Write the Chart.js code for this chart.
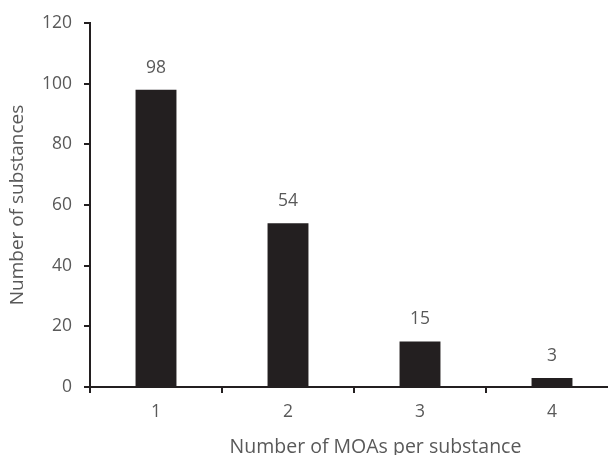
<!DOCTYPE html>
<html>
<head>
<meta charset="utf-8">
<script src="https://cdn.jsdelivr.net/npm/chart.js@4/dist/chart.umd.min.js"></script>
<style>
  html, body { margin: 0; padding: 0; background: #ffffff; overflow: hidden; }
  #wrap { position: relative; width: 620px; height: 455px; }
</style>
</head>
<body>
<div id="wrap"><canvas id="c"></canvas></div>
<script>
const categories = ['1', '2', '3', '4'];
const substanceCounts = [98, 54, 15, 3];
const yTickValues = [0, 20, 40, 60, 80, 100, 120];
const xTitle = 'Number of MOAs per substance';
const yTitle = 'Number of substances';

const TEXT = '#595959';
const DARK = '#231f20';
const FONT = "'Open Sans', 'Noto Sans', sans-serif";

const valueLabels = {
  id: 'valueLabels',
  afterDatasetsDraw(chart) {
    const ctx = chart.ctx;
    const meta = chart.getDatasetMeta(0);
    ctx.save();
    ctx.fillStyle = TEXT;
    ctx.font = '17.5px ' + FONT;
    ctx.textAlign = 'center';
    ctx.textBaseline = 'middle';
    meta.data.forEach((bar, i) => {
      ctx.fillText(String(substanceCounts[i]), bar.x, bar.y - 22);
    });
    // x-axis title (sits right of the plot centre in the original)
    const xs = chart.scales.x;
    ctx.font = '19.5px ' + FONT;
    ctx.textBaseline = 'alphabetic';
    ctx.fillText(xTitle, (xs.left + xs.right) / 2 + 21.5, xs.bottom - 2);
    ctx.restore();
  }
};

new Chart(document.getElementById('c'), {
  type: 'bar',
  data: {
    labels: categories,
    datasets: [{
      data: substanceCounts,
      backgroundColor: DARK,
      borderWidth: 0,
      barPercentage: 0.31,
      categoryPercentage: 1.0
    }]
  },
  options: {
    responsive: true,
    maintainAspectRatio: false,
    animation: false,
    layout: { padding: { left: 0, right: 2, top: 23, bottom: 0 } },
    plugins: { legend: { display: false }, tooltip: { enabled: false } },
    scales: {
      x: {
        offset: true,
        grid: {
          offset: true,
          drawOnChartArea: false,
          drawTicks: true,
          tickLength: 6,
          tickColor: DARK,
          lineWidth: 2
        },
        border: { display: true, color: DARK, width: 2 },
        ticks: { color: TEXT, font: { family: FONT, size: 17.5 }, padding: 9 },
        title: { display: false },
        afterFit(scale) { scale.height = 68; }
      },
      y: {
        min: 0,
        max: 120,
        afterBuildTicks(scale) { scale.ticks = yTickValues.map(v => ({ value: v })); },
        grid: {
          drawOnChartArea: false,
          drawTicks: true,
          tickLength: 6,
          tickColor: DARK,
          lineWidth: 2
        },
        border: { display: true, color: DARK, width: 2 },
        ticks: { color: TEXT, font: { family: FONT, size: 17.5 }, padding: 12 },
        title: {
          display: true,
          text: yTitle,
          color: TEXT,
          font: { family: FONT, size: 19 },
          padding: { top: 6, bottom: 0 }
        },
        afterFit(scale) { scale.width = 90; }
      }
    }
  },
  plugins: [valueLabels]
});
</script>
</body>
</html>
